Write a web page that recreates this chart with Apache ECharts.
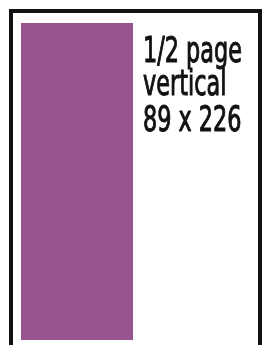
<!DOCTYPE html>
<html>
<head>
<meta charset="utf-8">
<script src="https://cdn.jsdelivr.net/npm/echarts@6/dist/echarts.min.js"></script>
<style>
  html, body { margin: 0; padding: 0; background: #fff; }
  #chart { width: 269px; height: 345px; }
</style>
</head>
<body>
<div id="chart"></div>
<script>
// ad size (mm)
const categories = ['1/2 page vertical'];
const adWidth = [89];
const adHeight = [226];
const labelLines = ['1/2 page', 'vertical', adWidth[0] + ' x ' + adHeight[0]];

let myChart = echarts.init(document.getElementById('chart'));

const lineY = [53, 86, 122];

var option = {
  animation: false,
  backgroundColor: '#fff',
  grid: { left: 21, top: 23, width: 112, height: 317 },
  xAxis: { type: 'category', data: categories, show: false },
  yAxis: { type: 'value', min: 0, max: adHeight[0], show: false },
  series: [
    {
      type: 'bar',
      data: adHeight,
      barWidth: '100%',
      silent: true,
      itemStyle: { color: '#985490' }
    }
  ],
  graphic: [
    {
      type: 'rect',
      shape: { x: 11, y: 11, width: 249, height: 400 },
      style: { fill: 'none', stroke: '#111', lineWidth: 4 }
    }
  ].concat(labelLines.map((t, i) => ({
    type: 'text',
    x: 143,
    y: lineY[i],
    scaleX: 0.71,
    style: {
      text: t,
      fill: '#111',
      stroke: '#111',
      lineWidth: 1,
      font: '35px "DejaVu Sans Condensed"',
      verticalAlign: 'middle',
      align: 'left'
    }
  })))
};

myChart.setOption(option);
</script>
</body>
</html>
